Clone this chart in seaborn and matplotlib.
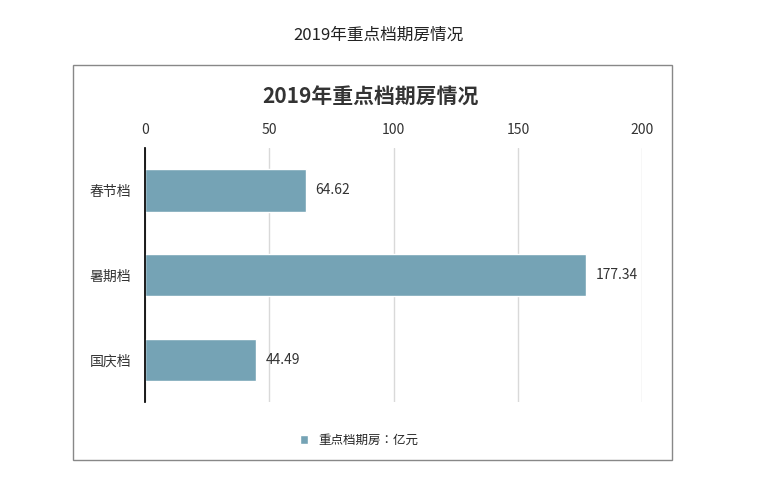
import matplotlib
matplotlib.use("Agg")
import matplotlib.pyplot as plt
from matplotlib import font_manager as fm
import seaborn as sns
import pandas as pd
from matplotlib.patches import Rectangle

categories = ["春节档", "暑期档", "国庆档"]
values = [64.62, 177.34, 44.49]
ticks = [0, 50, 100, 150, 200]

names = sorted({f.name for f in fm.fontManager.ttflist if "CJK" in f.name})
for f in fm.findSystemFonts():
    if "CJK" in f and not names:
        try:
            fm.fontManager.addfont(f)
        except Exception:
            pass
names = sorted({f.name for f in fm.fontManager.ttflist if "CJK" in f.name})
pref = [n for n in names if "SC" in n] + names
cjk = pref[0] if pref else "DejaVu Sans"
sns.set_theme(style="white", font=cjk, rc={"font.sans-serif": [cjk, "DejaVu Sans"]})
plt.rcParams["font.family"] = "sans-serif"
plt.rcParams["font.sans-serif"] = [cjk, "DejaVu Sans"]

df = pd.DataFrame({"cat": categories, "val": values})

fig = plt.figure(figsize=(7.57, 4.84), dpi=100)
fig.patches.append(Rectangle((0.0964, 0.0496), 0.791, 0.816, transform=fig.transFigure,
                             fill=False, edgecolor="#888888", linewidth=1))
fig.text(0.5, 0.927, "2019年重点档期房情况", ha="center", va="center", fontsize=12, color="#222222")
fig.text(0.49, 0.80, "2019年重点档期房情况", ha="center", va="center", fontsize=15,
         fontweight="bold", color="#333333")

ax = fig.add_axes([0.1916, 0.169, 0.657, 0.525])
sns.barplot(data=df, x="val", y="cat", orient="h", color="#75A3B5", width=0.5, ax=ax,
            saturation=1, label="重点档期房：亿元")
ax.set_xlim(0, 200)
ax.set_xticks(ticks)
ax.xaxis.tick_top()
ax.tick_params(axis="both", length=0, labelsize=10, colors="#333333")
ax.tick_params(axis="x", pad=8)
ax.tick_params(axis="y", pad=10)
ax.grid(axis="x", color="#d9d9d9", linewidth=1)
ax.set_axisbelow(True)
for s in ["top", "right", "bottom"]:
    ax.spines[s].set_visible(False)
ax.spines["left"].set_visible(True)
ax.spines["left"].set_color("#000000")
ax.set_xlabel("")
ax.set_ylabel("")
for i, v in enumerate(values):
    ax.text(v + 4, i, f"{v:.2f}", va="center", ha="left", fontsize=10, color="#333333")
ax.legend(loc="upper center", bbox_to_anchor=(0.43, -0.08), frameon=False, fontsize=9,
          handlelength=0.7, handleheight=0.7)
fig.savefig("out.png", dpi=100)
